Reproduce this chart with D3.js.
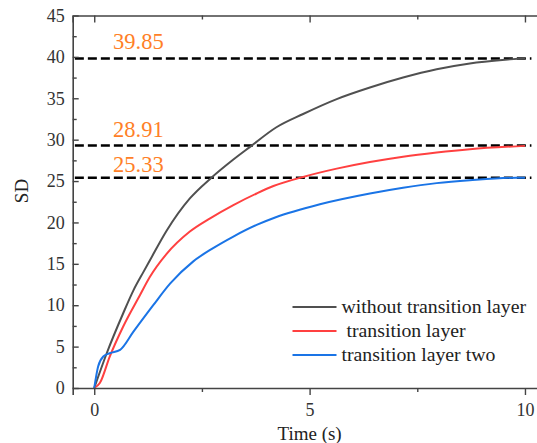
<!DOCTYPE html>
<html>
<head>
<meta charset="utf-8">
<script src="https://cdn.jsdelivr.net/npm/d3@7"></script>
<style>
  body { margin: 0; background: #fff; }
</style>
</head>
<body>
<div id="chart"></div>
<script>
// data
const blackT = [0, 0.29, 0.67, 0.91, 1.14, 1.29, 1.68, 2.22, 2.72, 3.23, 3.61, 4.23, 4.85, 5.63, 6.4, 7.17, 7.95, 8.72, 9.65, 10];
const blackV = [0, 4.2, 9.0, 11.8, 14.0, 15.4, 19.0, 22.9, 25.4, 27.6, 29.1, 31.5, 33.1, 34.9, 36.3, 37.5, 38.5, 39.2, 39.7, 39.85];

const redT = [0, 0.13, 0.36, 0.67, 1.06, 1.29, 1.68, 2.22, 2.69, 3.23, 3.77, 4.16, 4.85, 5.63, 6.4, 7.17, 7.95, 8.72, 10];
const redV = [0, 0.6, 3.8, 7.4, 11.2, 13.4, 16.2, 18.9, 20.5, 22.1, 23.5, 24.4, 25.5, 26.5, 27.3, 27.95, 28.45, 28.85, 29.25];

const blueT = [0, 0.09, 0.21, 0.36, 0.6, 0.91, 1.37, 1.76, 2.3, 2.76, 3.23, 3.77, 4.2, 5.24, 6.4, 7.17, 7.95, 8.72, 9.8, 10];
const blueV = [0, 2.6, 3.8, 4.2, 4.6, 6.8, 10.0, 12.6, 15.3, 16.9, 18.3, 19.7, 20.6, 22.2, 23.5, 24.2, 24.75, 25.1, 25.4, 25.4];

const seriesNames = ['without transition layer', ' transition layer', 'transition layer two'];
const seriesColors = ['#505050', '#ff4040', '#1a74e6'];

const refValues = [39.8, 29.3, 25.4];
const refLabels = ['39.85', '28.91', '25.33'];

const xTicks = [0, 5, 10];
const xMinorTicks = [2.5, 7.5];
const yTicks = [0, 5, 10, 15, 20, 25, 30, 35, 40, 45];
const yMinorTicks = [2.5, 7.5, 12.5, 17.5, 22.5, 27.5, 32.5, 37.5, 42.5];

const width = 537, height = 443;
const axisColor = '#444';
const serif = 'Liberation Serif';

const svg = d3.select('#chart').append('svg')
    .attr('width', width)
    .attr('height', height);

const x = d3.scaleLinear().domain([-0.5, 10.5]).range([72.7, 546.5]);
const y = d3.scaleLinear().domain([0, 45]).range([388, 15.5]);

// reference dashed lines + labels
refValues.forEach((v, i) => {
    svg.append('line')
        .attr('x1', x(-0.45)).attr('x2', x(10.15))
        .attr('y1', y(v)).attr('y2', y(v))
        .attr('stroke', '#000')
        .attr('stroke-width', 2.5)
        .attr('stroke-dasharray', '9,4');
    svg.append('text')
        .attr('x', 113)
        .attr('y', y(v) - [10, 8, 6][i])
        .attr('fill', '#ff7f27')
        .attr('font-size', 22.5)
        .text(refLabels[i]);
});

// curves
const seriesData = [
    blackT.map((t, i) => [t, blackV[i]]),
    redT.map((t, i) => [t, redV[i]]),
    blueT.map((t, i) => [t, blueV[i]])
];

const line = d3.line()
    .x(d => x(d[0]))
    .y(d => y(d[1]))
    .curve(d3.curveMonotoneX);

seriesData.forEach((pts, i) => {
    svg.append('path')
        .datum(pts)
        .attr('fill', 'none')
        .attr('stroke', seriesColors[i])
        .attr('stroke-width', 2)
        .attr('d', line);
});

// bottom axis (ticks outward)
svg.append('g')
    .attr('transform', `translate(0,${y(0)})`)
    .call(d3.axisBottom(x).tickValues(xTicks).tickSize(7).tickPadding(8).tickFormat(d3.format('d')));
svg.append('g')
    .attr('transform', `translate(0,${y(0)})`)
    .call(d3.axisBottom(x).tickValues(xMinorTicks).tickSize(4).tickFormat(''))
    .select('.domain').remove();

// top axis (ticks inward)
svg.append('g')
    .attr('transform', `translate(0,${y(45)})`)
    .call(d3.axisBottom(x).tickValues(xTicks).tickSize(7).tickFormat(''));
svg.append('g')
    .attr('transform', `translate(0,${y(45)})`)
    .call(d3.axisBottom(x).tickValues(xMinorTicks).tickSize(4).tickFormat(''))
    .select('.domain').remove();

// left axis (ticks inward)
const yAxis = svg.append('g')
    .attr('transform', `translate(${x(-0.5)},0)`)
    .call(d3.axisLeft(y).tickValues(yTicks).tickSizeInner(-6).tickSizeOuter(0).tickPadding(8).tickFormat(d3.format('d')));
yAxis.selectAll('text').attr('x', -8);
svg.append('g')
    .attr('transform', `translate(${x(-0.5)},0)`)
    .call(d3.axisLeft(y).tickValues(yMinorTicks).tickSize(-4).tickFormat(''))
    .select('.domain').remove();

svg.selectAll('.domain').attr('stroke', axisColor).attr('stroke-width', 1.6);
svg.selectAll('.tick line').attr('stroke', axisColor).attr('stroke-width', 1.4);
svg.selectAll('.tick text')
    .attr('fill', '#333')
    .attr('font-size', 18);

// axis titles
svg.append('text')
    .attr('x', x(5))
    .attr('y', 440)
    .attr('text-anchor', 'middle')
    .attr('font-size', 19)
    .attr('fill', '#222')
    .text('Time (s)');

svg.append('text')
    .attr('transform', `translate(28,${y(23.8)}) rotate(-90)`)
    .attr('text-anchor', 'middle')
    .attr('font-size', 19)
    .attr('fill', '#222')
    .text('SD');

// legend
const legend = svg.append('g');
seriesNames.forEach((name, i) => {
    const ly = 307 + i * 24;
    legend.append('line')
        .attr('x1', 292.5).attr('x2', 336.5)
        .attr('y1', ly).attr('y2', ly)
        .attr('stroke', seriesColors[i])
        .attr('stroke-width', 2);
    legend.append('text')
        .attr('x', 341.5)
        .attr('y', ly + 6)
        .attr('font-size', 19.8)
        .attr('fill', '#222')
        .attr('xml:space', 'preserve')
        .style('white-space', 'pre')
        .text(name);
});

// serif everywhere (axis groups default to sans-serif)
svg.selectAll('g').attr('font-family', serif);
svg.selectAll('text').attr('font-family', serif).style('font-family', serif);
</script>
</body>
</html>
